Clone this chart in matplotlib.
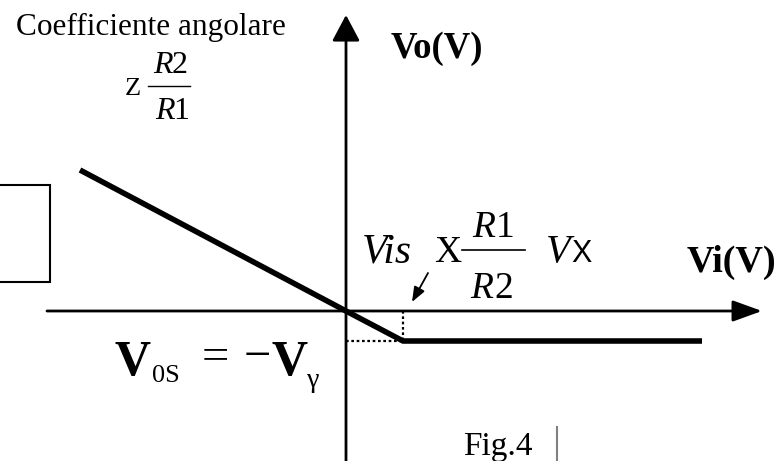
import matplotlib
matplotlib.use("Agg")
import matplotlib.pyplot as plt
from matplotlib.patches import Rectangle

# Transfer characteristic of the clamp circuit (arbitrary volt units)
vi = [-5.32, 0.0, 1.14, 7.12]
vo = [2.82, 0.0, -0.60, -0.60]
v_gamma = 0.60          # output saturation level magnitude
vi_knee = 1.14          # input voltage at the knee
x_axis_span = [-5.98, 8.32]
y_axis_span = [-3.00, 5.92]

serif = "Liberation Serif"

W, H = 779, 461
fig = plt.figure(figsize=(W / 100, H / 100), dpi=100)
fig.patch.set_facecolor("white")

# data axes: origin placed at pixel (346, 311), 50 px per unit
ax = fig.add_axes([0, 0, 1, 1])
ax.set_xlim(-346 / 50, (W - 346) / 50)
ax.set_ylim(-(H - 311) / 50, 311 / 50)
ax.axis("off")

# overlay axes in pixel coordinates for the annotations
ov = fig.add_axes([0, 0, 1, 1], facecolor="none")
ov.set_xlim(0, W)
ov.set_ylim(H, 0)
ov.axis("off")


def label(x, y, s, size, ha="left", style="normal", weight="normal", family=serif):
    ov.text(x, y, s, family=family, fontsize=size, style=style, weight=weight,
            ha=ha, va="baseline")


# coordinate axes with arrow heads
ax.annotate("", xy=(x_axis_span[1], 0), xytext=(x_axis_span[0], 0),
            arrowprops=dict(arrowstyle="-|>,head_length=1.8,head_width=0.65",
                            mutation_scale=10, lw=2.0, color="black",
                            shrinkA=0, shrinkB=0))
ax.annotate("", xy=(0, y_axis_span[1]), xytext=(0, y_axis_span[0]),
            arrowprops=dict(arrowstyle="-|>,head_length=1.6,head_width=0.85",
                            mutation_scale=10, lw=2.0, color="black",
                            shrinkA=0, shrinkB=0))

# transfer curve
ax.plot(vi, vo, color="black", lw=4.0, solid_capstyle="butt", solid_joinstyle="miter")

# dotted guides to the knee
ax.plot([vi_knee, vi_knee], [0, -v_gamma], color="black", lw=1.6, ls=(0, (1.2, 1.2)))
ax.plot([0, vi_knee], [-v_gamma, -v_gamma], color="black", lw=1.6, ls=(0, (1.2, 1.2)))

# slope label
label(151, 35, "Coefficiente angolare", 22.5, ha="center")
label(125, 95, "Z", 19)
label(153, 73, "R", 23, style="italic")
label(172, 73, "2", 23)
ov.plot([148, 190], [86, 86], color="black", lw=1.0)
label(155, 119, "R", 23, style="italic")
label(173, 119, "1", 23)

# empty box on the left
ov.add_patch(Rectangle((-5, 185), 55, 97, fill=False, lw=1.5, edgecolor="black"))

# axis titles
label(391, 58, "Vo(V)", 26.5, weight="bold")
label(687, 272, "Vi(V)", 27.5, weight="bold")

# knee voltage label
label(362, 262, "Vis", 30, style="italic")
label(434, 262, "X", 27)
label(472, 237, "R", 27, style="italic")
label(496, 237, "1", 27)
ov.plot([462, 525], [250, 250], color="black", lw=1.2)
label(470, 298, "R", 27, style="italic")
label(494, 298, "2", 27)
label(546, 262, "V", 29, style="italic")
label(571, 262, "X", 22, family="Liberation Sans")
ov.annotate("", xy=(412, 302), xytext=(428, 273),
            arrowprops=dict(arrowstyle="-|>,head_length=0.9,head_width=0.35",
                            mutation_scale=10, lw=1.3, color="black",
                            shrinkA=0, shrinkB=0))

# saturation level label
label(115, 375, "V", 36, weight="bold")
label(152, 382, "0S", 19)
ov.text(215, 358, "=", family=serif, fontsize=35, ha="center", va="center")
ov.text(257, 358, "−", family=serif, fontsize=35, ha="center", va="center")
label(272, 375, "V", 36, weight="bold")
label(307, 387, "γ", 20)

# caption
label(463, 455, "Fig.4", 24)
ov.plot([557, 557], [427, 461], color="#808080", lw=1.5)

fig.savefig("out.png", dpi=100, facecolor="white")
